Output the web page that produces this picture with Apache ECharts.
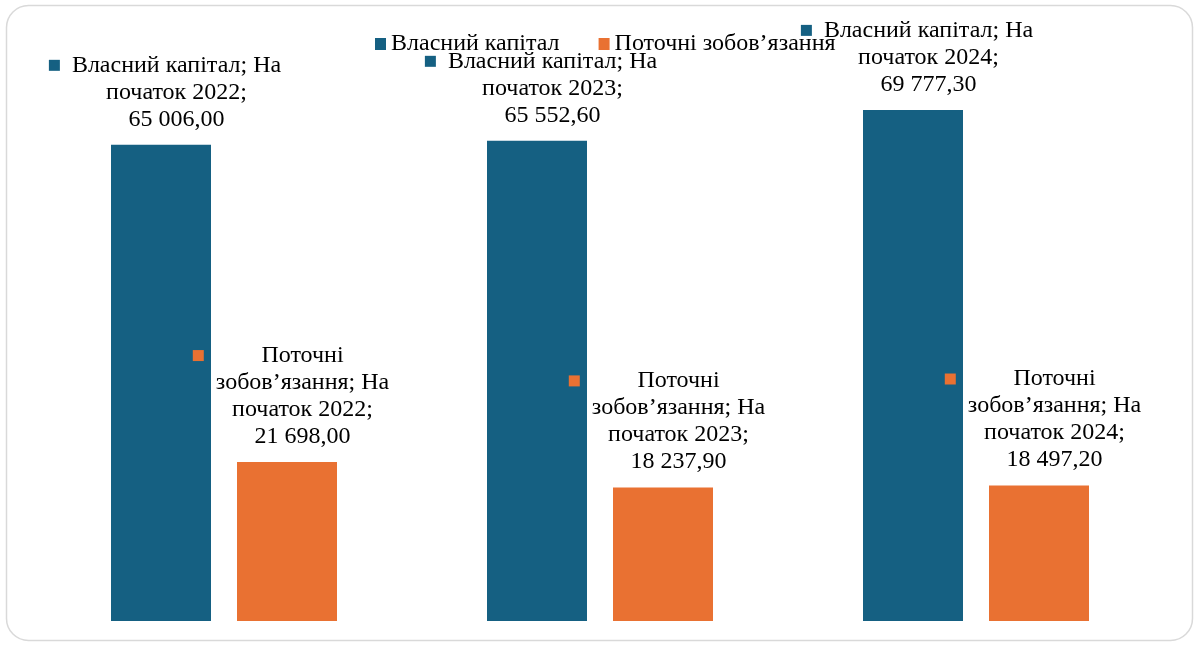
<!DOCTYPE html>
<html><head><meta charset="utf-8">
<script src="https://cdn.jsdelivr.net/npm/echarts@6/dist/echarts.min.js"></script>
<style>html,body{margin:0;padding:0;background:#fff}#c{width:1198px;height:646px}</style>
</head><body><div id="c"></div>
<script>
const categories = ['На початок 2022', 'На початок 2023', 'На початок 2024'];
const seriesNames = ['Власний капітал', 'Поточні зобов’язання'];
const equity = [65006.00, 65552.60, 69777.30];
const liabilities = [21698.00, 18237.90, 18497.20];

const BLUE = '#156082', ORANGE = '#E97132';
const FONT = '"Liberation Serif", "Times New Roman", serif';

function fmt(v) {
  const s = v.toFixed(2).split('.');
  return s[0].replace(/\B(?=(\d{3})+(?!\d))/g, '\u00a0') + ',' + s[1];
}
function wrap(words, max) {
  const lines = []; let cur = '';
  words.forEach(w => {
    if (!cur) cur = w;
    else if ((cur + ' ' + w).length <= max) cur += ' ' + w;
    else { lines.push(cur); cur = w; }
  });
  if (cur) lines.push(cur);
  return lines;
}
function makeLabel(key) {
  return function (p) {
    const words = (p.seriesName + '; ' + p.name + ';').split(' ');
    words.push(fmt(p.value));
    const lines = wrap(words, 20);
    return lines.map((l, i) => (i === 0 ? '{' + key + '|}{sp|}' : '{sp2|}') + '{t|' + l + '}').join('\n');
  };
}
const rich = {
  kb: { width: 11, height: 11, backgroundColor: BLUE, align: 'left' },
  ko: { width: 11, height: 11, backgroundColor: ORANGE, align: 'left' },
  sp: { width: 12, height: 11, align: 'left' },
  sp2: { width: 23, height: 11, align: 'left' },
  t: { fontFamily: FONT, fontSize: 24, color: '#000', lineHeight: 27 }
};

const chart = echarts.init(document.getElementById('c'));
chart.setOption({
  animation: false,
  backgroundColor: '#fff',
  graphic: [{
    type: 'rect', shape: { x: 6.5, y: 5.5, width: 1186, height: 635, r: 22 },
    style: { fill: 'none', stroke: '#d9d9d9', lineWidth: 1.5 }, z: -1
  }],
  legend: {
    top: 27, left: 370, itemWidth: 11, itemHeight: 12, itemGap: 39,
    icon: 'rect',
    textStyle: { fontFamily: FONT, fontSize: 24, color: '#000' },
    data: seriesNames
  },
  grid: { left: 36, right: 34, top: 35, bottom: 25 },
  xAxis: {
    type: 'category', data: categories,
    axisLine: { show: false }, axisTick: { show: false }, axisLabel: { show: false }
  },
  yAxis: {
    type: 'value', min: 0, max: 80000, interval: 10000,
    axisLine: { show: false }, axisTick: { show: false }, axisLabel: { show: false },
    splitLine: { show: false }
  },
  series: [
    {
      name: seriesNames[0], type: 'bar', data: equity, barWidth: 100, barGap: '26%',
      itemStyle: { color: BLUE },
      label: { show: true, position: 'top', distance: 12, offset: [4, 0], formatter: makeLabel('kb'), rich: rich }
    },
    {
      name: seriesNames[1], type: 'bar', data: liabilities, barWidth: 100,
      itemStyle: { color: ORANGE },
      label: { show: true, position: 'top', distance: 12, offset: [4, 0], formatter: makeLabel('ko'), rich: rich }
    }
  ]
});
</script></body></html>
